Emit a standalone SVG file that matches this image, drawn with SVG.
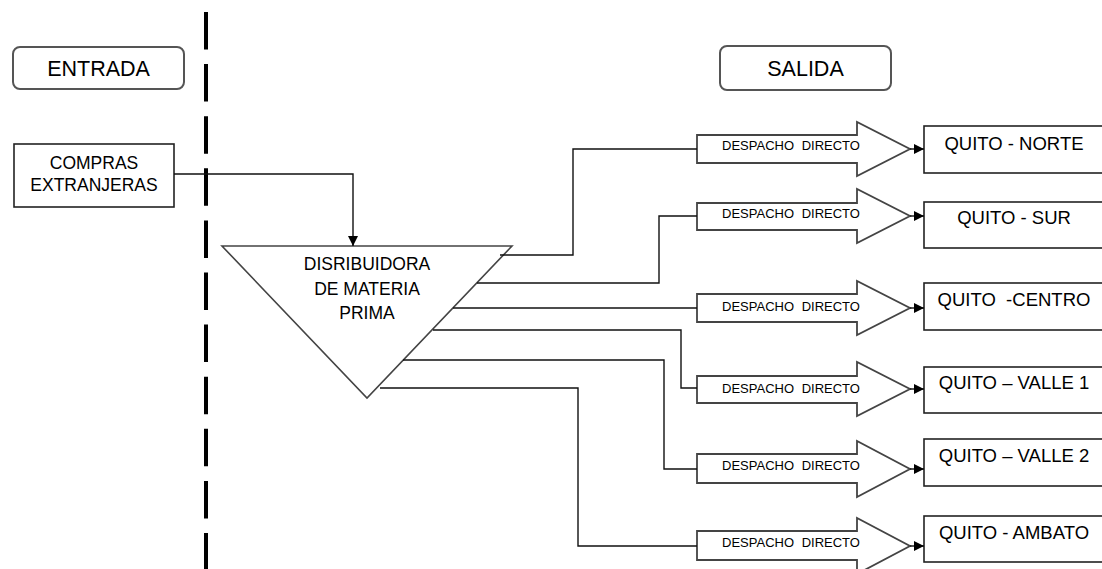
<svg xmlns="http://www.w3.org/2000/svg" width="1102" height="569" viewBox="0 0 1102 569">
<defs>
<marker id="ah" markerWidth="10" markerHeight="10" refX="10" refY="5" orient="auto" markerUnits="userSpaceOnUse">
<path d="M0,0 L10,5 L0,10 Z" fill="#000"/>
</marker>
<style>
text{font-family:"Liberation Sans",Arial,sans-serif;fill:#000}
.lbl{font-size:21.5px;text-anchor:middle}
.mid{font-size:17.5px;text-anchor:middle}
.q{font-size:18.5px;text-anchor:middle}
.d{font-size:13px;text-anchor:middle;word-spacing:4px}
.rb{fill:#fff;stroke:#555;stroke-width:2}
.box{fill:#fff;stroke:#222;stroke-width:1.6}
.arr{fill:#fff;stroke:#444;stroke-width:1.8}
.con{fill:none;stroke:#111;stroke-width:1.4}
</style>
</defs>
<rect width="1102" height="569" fill="#fff"/>
<line x1="206" y1="12" x2="206" y2="569" stroke="#000" stroke-width="4" stroke-dasharray="37.5 14.6"/>

<g id="entrada"><rect class="rb" x="13" y="47" width="171" height="42" rx="7"/><text class="lbl" x="98.5" y="76">ENTRADA</text></g>
<g id="salida"><rect class="rb" x="720" y="46" width="171" height="44" rx="7"/><text class="lbl" x="805.5" y="76">SALIDA</text></g>

<g id="compras"><rect class="box" x="14" y="144" width="160" height="63"/><text class="mid" x="94" y="168.5">COMPRAS</text><text class="mid" x="94" y="191">EXTRANJERAS</text></g>

<g id="distribuidora"><polygon points="222,246 512,246 367,398" fill="#fff" stroke="#444" stroke-width="1.6"/><text class="mid" x="367" y="269.5">DISRIBUIDORA</text><text class="mid" x="367" y="294.5">DE MATERIA</text><text class="mid" x="367" y="318.5">PRIMA</text></g>

<g id="arrows">
<path class="arr" d="M697,135 H857 V122 L910,149 L857,176 V163 H697 Z"/>
<text class="d" x="791" y="149.5">DESPACHO DIRECTO</text>
<path class="arr" d="M697,203 H857 V189 L910,216 L857,243 V230 H697 Z"/>
<text class="d" x="791" y="217.5">DESPACHO DIRECTO</text>
<path class="arr" d="M697,294 H857 V281 L910,308 L857,335 V322 H697 Z"/>
<text class="d" x="791" y="310.5">DESPACHO DIRECTO</text>
<path class="arr" d="M697,376 H857 V362 L910,389 L857,416 V403 H697 Z"/>
<text class="d" x="791" y="392.5">DESPACHO DIRECTO</text>
<path class="arr" d="M697,454 H857 V441 L910,469 L857,497 V483 H697 Z"/>
<text class="d" x="791" y="469.5">DESPACHO DIRECTO</text>
<path class="arr" d="M697,531 H857 V518 L910,546 L857,574 V560 H697 Z"/>
<text class="d" x="791" y="546.5">DESPACHO DIRECTO</text>
</g>

<g id="q1"><rect class="box" x="924" y="126" width="190" height="47"/><text class="q" x="1014" y="149.5">QUITO - NORTE</text></g>
<g id="q2"><rect class="box" x="924" y="202" width="190" height="46"/><text class="q" x="1014" y="223.5">QUITO - SUR</text></g>
<g id="q3"><rect class="box" x="924" y="283" width="190" height="47"/><text class="q" x="1014" y="305.5" xml:space="preserve">QUITO  -CENTRO</text></g>
<g id="q4"><rect class="box" x="924" y="367" width="190" height="46"/><text class="q" x="1014" y="388.5">QUITO – VALLE 1</text></g>
<g id="q5"><rect class="box" x="924" y="439" width="190" height="47"/><text class="q" x="1014" y="461.5">QUITO – VALLE 2</text></g>
<g id="q6"><rect class="box" x="924" y="516" width="190" height="46"/><text class="q" x="1014" y="538.5">QUITO - AMBATO</text></g>

<g id="connectors">
<path class="con" d="M174,174 H353 V246" marker-end="url(#ah)"/>
<path class="con" d="M500,255 H573 V149 H697"/>
<path class="con" d="M477,283 H659 V216 H697"/>
<path class="con" d="M453,308 H697"/>
<path class="con" d="M433,330 H681 V388 H697"/>
<path class="con" d="M403,360 H664 V469 H697"/>
<path class="con" d="M380,388 H578 V546 H697"/>
<path class="con" d="M910,149 H924" marker-end="url(#ah)"/>
<path class="con" d="M910,216 H924" marker-end="url(#ah)"/>
<path class="con" d="M910,308 H924" marker-end="url(#ah)"/>
<path class="con" d="M910,389 H924" marker-end="url(#ah)"/>
<path class="con" d="M910,469 H924" marker-end="url(#ah)"/>
<path class="con" d="M910,546 H924" marker-end="url(#ah)"/>
</g>
</svg>
